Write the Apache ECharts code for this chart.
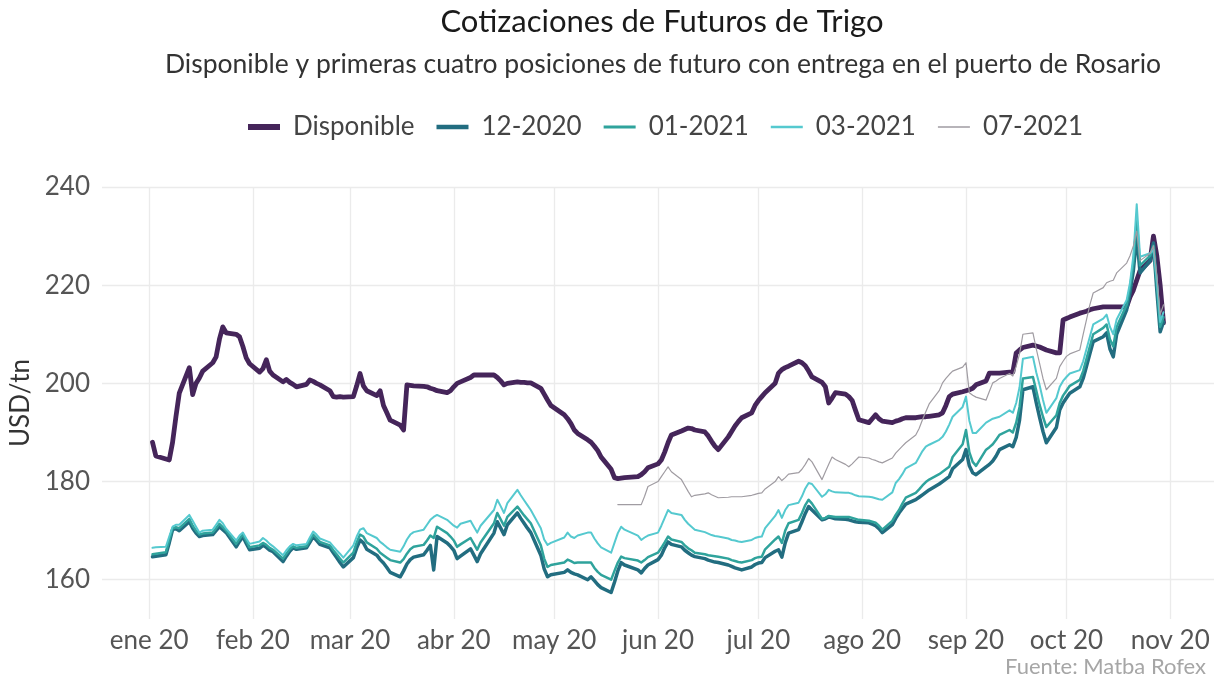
<!DOCTYPE html>
<html><head><meta charset="utf-8">
<script src="https://cdn.jsdelivr.net/npm/echarts@6/dist/echarts.min.js"></script>
<style>html,body{margin:0;padding:0;background:#fff}#c{width:1216px;height:683px}</style>
</head><body><div id="c"></div>
<script>
// ---- DATA ----
const dispDates = ['01-02','01-03','01-06','01-07','01-08','01-09','01-10','01-13','01-14','01-15','01-16','01-17','01-20','01-21','01-22','01-23','01-24','01-27','01-28','01-29','01-30','01-31',
'02-03','02-04','02-05','02-06','02-07','02-10','02-11','02-12','02-13','02-14','02-17','02-18','02-19','02-20','02-21','02-24','02-25','02-26','02-27','02-28',
'03-02','03-03','03-04','03-05','03-06','03-09','03-10','03-11','03-12','03-13','03-16','03-17','03-18','03-19','03-20','03-23','03-24','03-25','03-26','03-27','03-30','03-31',
'04-01','04-02','04-03','04-06','04-07','04-08','04-09','04-13','04-14','04-15','04-16','04-17','04-20','04-21','04-22','04-23','04-24','04-27','04-28','04-29','04-30',
'05-04','05-05','05-06','05-07','05-08','05-11','05-12','05-13','05-14','05-15','05-18','05-19','05-20','05-21','05-22','05-26','05-27','05-28','05-29',
'06-01','06-02','06-03','06-04','06-05','06-08','06-09','06-10','06-11','06-12','06-15','06-16','06-17','06-18','06-19','06-22','06-23','06-24','06-25','06-26','06-29','06-30',
'07-01','07-02','07-03','07-06','07-07','07-08','07-09','07-10','07-13','07-14','07-15','07-16','07-17','07-20','07-21','07-22','07-23','07-24','07-27','07-28','07-29','07-30','07-31',
'08-03','08-04','08-05','08-06','08-07','08-10','08-11','08-12','08-13','08-14','08-17','08-18','08-19','08-20','08-21','08-24','08-25','08-26','08-27','08-28','08-31',
'09-01','09-02','09-03','09-04','09-07','09-08','09-09','09-10','09-11','09-14','09-15','09-16','09-17','09-18','09-21','09-22','09-23','09-24','09-25','09-28','09-29','09-30',
'10-01','10-02','10-05','10-06','10-07','10-08','10-09','10-12','10-13','10-14','10-15','10-16','10-19','10-20','10-21','10-22','10-23','10-26','10-27','10-28','10-29','10-30'];
const dispValues = [188,185.2,184.6,184.4,188,193.2,198,203.2,197.7,200,201.1,202.5,204.2,205.4,209,211.5,210.3,210,209.5,207.5,205.2,204,
202.3,203,204.8,202.5,201.7,200.3,200.8,200.2,199.8,199.3,199.8,200.7,200.4,200,199.7,198.5,197.3,197.2,197.3,197.2,
197.3,199.5,202,199.5,198.5,197.5,198.5,195.5,194,192.5,191.5,190.5,199.7,199.6,199.5,199.4,199.3,199,198.8,198.5,198.1,198.5,
199.3,200,200.3,201.2,201.7,201.7,201.7,201.7,201.2,200.5,199.7,200,200.3,200.2,200.2,200.1,200.1,199,197.8,196.6,195.5,
193.6,192.8,191.8,190.5,189.8,188.5,188,187.2,186.3,185,182.5,180.8,180.6,180.7,180.8,181,181.4,182,182.8,
183.6,184.4,186,187.9,189.5,190.3,190.6,190.9,190.8,190.5,190.1,189.3,188.2,187.2,186.5,189.1,190.2,191.3,192.2,193,194,195.5,
196.5,197.3,198.1,200,202.1,202.8,203.2,203.5,204.5,204.2,203.6,202.5,201.3,200.2,199.3,196,197,198.1,197.8,197.3,196.5,194.5,192.6,
192,192.8,193.6,192.8,192.3,192,192.3,192.5,192.8,193,193,193.1,193.2,193.2,193.3,193.6,194,195.5,197.3,197.8,198.3,
198.5,198.7,199,199.7,200.5,202.1,202.1,202.1,202.1,202.3,202.3,206.2,206.8,207.3,207.8,207.6,207.4,207.1,206.8,206.2,206.2,212.9,
213.2,213.5,214.3,214.5,214.7,215,215.2,215.6,215.6,215.6,215.6,215.6,215.6,217.6,219,221,223,225,230,226,220,212.3];

const futDates = dispDates.slice();
const f1220 = [164.7,164.8,165.1,167.5,170.2,170.4,170,171.8,170.5,169.5,168.8,169,169.2,170,170.8,170.2,169.6,166.7,167.8,168.8,167.4,166.1,
166.4,167,166.6,166,165.7,163.7,164.8,165.8,166.5,166.2,166.5,167.6,168.8,168,167.2,166.5,165.5,164.5,163.5,162.6,
164.5,166.5,168.1,167.5,166.2,165,164.1,163.4,162.5,161.5,160.6,161.8,163.2,164.1,164.6,165.1,166,167,162,168.8,167.5,166.8,
166,164.3,164.8,166.3,165,163.7,165.3,169.5,171.8,170.5,169.2,171.2,173.6,172.5,171.5,170.5,169.6,165,162.2,160.6,161,
161.5,162,161.5,161.2,161,160,160.6,159.8,159,158.4,157.4,159.5,161.8,163.5,163,162,161.4,162.3,163,
164.1,165,166.5,167.7,167.2,166.7,166,165.5,165,164.7,164.3,164,163.8,163.6,163.5,163,162.7,162.4,162.2,162,162.6,163.1,
163.4,163.5,164.5,165.8,166.1,164.6,167.5,169.5,170.2,171.8,173.5,174.9,174.2,172.2,172.4,172.8,172.6,172.4,172.3,172.2,172,171.8,171.7,
171.6,171.3,171,170.4,169.6,171.2,172.5,173.6,174.5,175.4,176.3,176.8,177.3,177.8,178.3,179.5,180,180.5,181,182.6,184.5,
186.5,183.2,181.8,181.4,183,183.5,184.2,185.2,186.5,187.5,187.1,189,192.5,198.7,199.3,196,193,190.2,187.9,191,194.6,196,
197,198,199.3,201,203.5,206,208.5,209.5,210.3,207,205.4,210,215,218.5,223,230,222.5,225,228.6,219,210.5,212.5];
const f0121 = [165.2,165.3,165.6,168,170.5,170.7,170.5,172.4,171,170,169.2,169.4,169.6,170.5,171.4,170.7,170,167.3,168.3,169.2,167.9,166.6,
167,167.5,167.1,166.5,166.1,164.3,165.3,166.2,166.8,166.5,166.8,168,169.2,168.5,167.7,167,166,165.2,164.3,163.5,
165.5,167.6,169.2,168.8,167.6,166.3,165.5,165,164.5,164,163.5,164.2,165.3,166.2,166.7,167.1,168,169,168.5,170.8,169.5,168.8,
168,166.7,167.2,168.5,167.3,166.1,167.6,171.5,173.6,172.3,171,172.8,174.9,174,173.1,172.3,171.5,167,164.3,162.6,163,
163.5,164.1,163.8,163.4,163.5,163.5,163.5,162.4,161.6,161,160,161.8,163.5,164.7,164.4,163.9,163.5,164,164.6,
165.5,166.5,167.6,168.8,168.2,167.7,167,166.4,166,165.5,165.2,165,164.9,164.8,164.7,164.3,164,163.8,163.6,163.5,164,164.4,
164.6,164.7,166.2,168.2,168.8,167.5,170,171.5,172.2,173.6,175.2,176.3,175.5,172.4,172.6,173,172.9,172.8,172.8,172.8,172.6,172.4,172.2,
172,171.8,171.6,171,170.2,172,173.2,174.2,175.5,176.7,177.7,178.4,179.2,179.9,180.4,181.5,182,182.5,183,185,187.6,
190.5,186,184,183.2,186.5,187,187.6,188.5,189.5,190.5,190,192,195.2,201,201.3,198.5,195.6,193.2,191.1,193.5,196,197.5,
198.5,199.5,200.7,202.5,205,207.5,210,211.3,212,209,207.5,211.5,216,219.5,224.5,233.5,224,226,228,220,211.5,213.5];
const f0321 = [166.5,166.6,166.7,168.8,170.8,171.2,171.2,173.2,172,170.8,169.6,170,170.2,171.2,172.2,171.5,170.4,168,169,169.6,168.4,167.3,
167.8,168.5,168,167.3,166.8,165,166,166.8,167.3,167,167.3,168.6,169.8,169.2,168.4,167.6,166.8,166,165.3,164.5,
167,168.8,170.2,170.5,169.5,168.5,167.7,167.2,166.6,166.1,165.7,166.8,168.2,169.2,169.7,170.2,171.2,172.2,172.8,173.2,172.2,171.6,
171,170.6,171.4,172,170.8,169.6,171,174.2,176.3,175,173.6,175.6,178.3,177.2,176.2,175.2,174.2,170.5,168.2,167.1,167.5,
168.6,169.6,168.8,168.5,169,169.6,169.6,168.4,167.4,166.6,165.5,167.5,169.5,170.8,170.2,169,168.1,168.6,169,
169.6,171,172.6,174.2,173.6,173.2,172.2,171.4,170.8,170.2,169.7,169.4,169.1,168.9,168.8,168.4,168.1,168,167.8,167.7,168.1,168.5,
168.7,168.8,170.5,173,174.2,172.6,174.2,175.2,175.7,177,178.6,179.7,179.5,176.9,177.4,178.3,178,177.8,177.7,177.7,177.5,177.2,177,
176.9,176.8,176.6,176.4,176.3,177.8,179.7,180.5,181.5,182.7,183.8,185,186.2,187.1,187.5,188.5,189.1,190.2,191.6,193.2,195.2,
197.3,192.4,189.9,189.9,192,192.4,192.8,193,193.2,194.5,194,196,199.2,205,205.4,202.2,199.6,196.6,194,197,199.3,200.5,
201.3,202,202.7,204.5,207,209.5,212,213.2,214,211.5,210,213,217,220.5,226,236.5,225.8,226.5,227.2,221,212.5,214.5];

const f07Dates = ['05-20','05-21','05-22','05-26','05-27','05-28','05-29',
'06-01','06-02','06-03','06-04','06-05','06-08','06-09','06-10','06-11','06-12','06-15','06-16','06-17','06-18','06-19','06-22','06-23','06-24','06-25','06-26','06-29','06-30',
'07-01','07-02','07-03','07-06','07-07','07-08','07-09','07-10','07-13','07-14','07-15','07-16','07-17','07-20','07-21','07-22','07-23','07-24','07-27','07-28','07-29','07-30','07-31',
'08-03','08-04','08-05','08-06','08-07','08-10','08-11','08-12','08-13','08-14','08-17','08-18','08-19','08-20','08-21','08-24','08-25','08-26','08-27','08-28','08-31',
'09-01','09-02','09-03','09-04','09-07','09-08','09-09','09-10','09-11','09-14','09-15','09-16','09-17','09-18','09-21','09-22','09-23','09-24','09-25','09-28','09-29','09-30',
'10-01','10-02','10-05','10-06','10-07','10-08','10-09','10-12','10-13','10-14','10-15','10-16','10-19','10-20','10-21','10-22','10-23','10-26','10-27','10-28','10-29','10-30'];
const f0721 = [175.3,175.3,175.3,175.3,175.3,177,179,
180,181,182,183,182,180.4,179.2,178,176.9,177.2,177.5,177.7,177.3,177,176.7,176.8,176.9,176.9,176.9,176.9,177.2,177.4,
177.6,177.7,178.5,180,181,180.2,180.8,181.5,181.8,182.5,183.5,184.7,184,180.4,182,183.5,185,184.5,183.5,183,183.6,184.3,185,
184.8,184.5,184.3,184,183.8,184.8,185.8,186.5,187.2,187.9,189.5,190.8,192.6,194.2,195.8,198.5,200.1,201,201.8,202.5,203.3,
204.2,198.1,197.6,197.2,196.6,198.4,200.1,200.5,201,202,201.5,203.5,206,210,210.3,207,204,201,198.7,201,203.4,204.5,
205.5,206,206.8,210,213,216,218.4,219.5,220.5,220.8,221,222.5,224.5,226,228,231,225,226.5,228,222,214,216];

const seriesNames = ['Disponible','12-2020','01-2021','03-2021','07-2021'];
const monthLabels = ['ene','feb','mar','abr','may','jun','jul','ago','sep','oct','nov','dic'];
const yTickLabels = [160,180,200,220,240];

// ---- CHART ----
const FONT = 'Lato';
const pairs = (dates, vals) => dates.map((d, i) => ['2020-' + d, vals[i]]);
const styles = [
  {color:'#45255a', width:4.8, key:6},
  {color:'#226d80', width:3.5, key:4.6},
  {color:'#2fa39c', width:2.5, key:3.2},
  {color:'#55c9cf', width:2, key:2.6},
  {color:'#a09ca2', width:1.2, key:1.6}
];
const seriesData = [
  pairs(dispDates, dispValues),
  pairs(futDates, f1220),
  pairs(futDates, f0121),
  pairs(futDates, f0321),
  pairs(f07Dates, f0721)
];
function keyIcon(t){
  const a = (7 - t/2).toFixed(2), b = (7 + t/2).toFixed(2);
  return 'path://M0,0L32,0L32,0.01L0,0.01Z M0,13.99L32,13.99L32,14L0,14Z M0,' + a + 'L32,' + a + 'L32,' + b + 'L0,' + b + 'Z';
}

const chart = echarts.init(document.getElementById('c'), null, {renderer:'canvas'});
const T = 'rgba(0,0,0,0)';
chart.setOption({
  animation:false,
  backgroundColor:'#ffffff',
  textStyle:{fontFamily:FONT},
  title:[
    {text:'Cotizaciones de Futuros de Trigo', left:657, top:1, textAlign:'center',
     textStyle:{fontFamily:FONT, fontSize:31, fontWeight:'normal', color:'#1a1a1a'}},
    {text:'Disponible y primeras cuatro posiciones de futuro con entrega en el puerto de Rosario', left:658, top:46, textAlign:'center',
     textStyle:{fontFamily:FONT, fontSize:26.5, fontWeight:'normal', color:'#333333'}},
    {text:'Fuente: Matba Rofex', right:5, bottom:0,
     textStyle:{fontFamily:FONT, fontSize:22, fontWeight:'normal', color:'#a6a6a6'}}
  ],
  legend:{
    data:seriesNames.map((n, i) => ({name:n, icon:keyIcon(styles[i].key), itemStyle:{color:styles[i].color}})),
    left:243, top:109, itemWidth:32, itemHeight:14, itemGap:22,
    textStyle:{fontFamily:FONT, fontSize:26, color:'#444444', padding:[0,0,0,8]}
  },
  grid:{left:102, right:2, top:187, bottom:64, containLabel:false, outerBoundsMode:'none'},
  xAxis:{
    type:'time',
    min:'2019-12-17 22:00', max:'2020-11-14 02:00',
    splitNumber:11, minInterval:28*86400000,
    axisLine:{show:false}, axisTick:{show:false},
    axisLabel:{
      fontFamily:FONT, fontSize:26, color:'#555555', margin:9,
      showMinLabel:false, showMaxLabel:false,
      formatter:function(val){
        const d = new Date(val);
        if (d.getDate() !== 1 || d.getHours() !== 0) return '';
        return monthLabels[d.getMonth()] + ' ' + String(d.getFullYear()).slice(2);
      }
    },
    splitLine:{show:true, showMinLine:false, showMaxLine:false, lineStyle:{color:'#ebebeb', width:1.3}}
  },
  yAxis:{
    type:'value', min:152, max:240, interval:4,
    name:'USD/tn', nameLocation:'middle', nameGap:67, nameRotate:90,
    nameTextStyle:{fontFamily:FONT, fontSize:26, color:'#333333'},
    axisLine:{show:false}, axisTick:{show:false},
    axisLabel:{fontFamily:FONT, fontSize:26, color:'#555555', margin:12,
      formatter:function(v){ return yTickLabels.indexOf(v) >= 0 ? String(v) : ''; }},
    splitLine:{show:true, lineStyle:{color:[T,T,'#ebebeb',T,T], width:1.3}}
  },
  series: seriesNames.map((name, i) => ({
    type:'line', name:name, data:seriesData[i],
    symbol:'none', showSymbol:false, smooth:false,
    lineStyle:{color:styles[i].color, width:styles[i].width, join:'round', cap:'round'},
    itemStyle:{color:styles[i].color},
    emphasis:{disabled:true}, silent:true, z:2+i
  }))
});
</script></body></html>
